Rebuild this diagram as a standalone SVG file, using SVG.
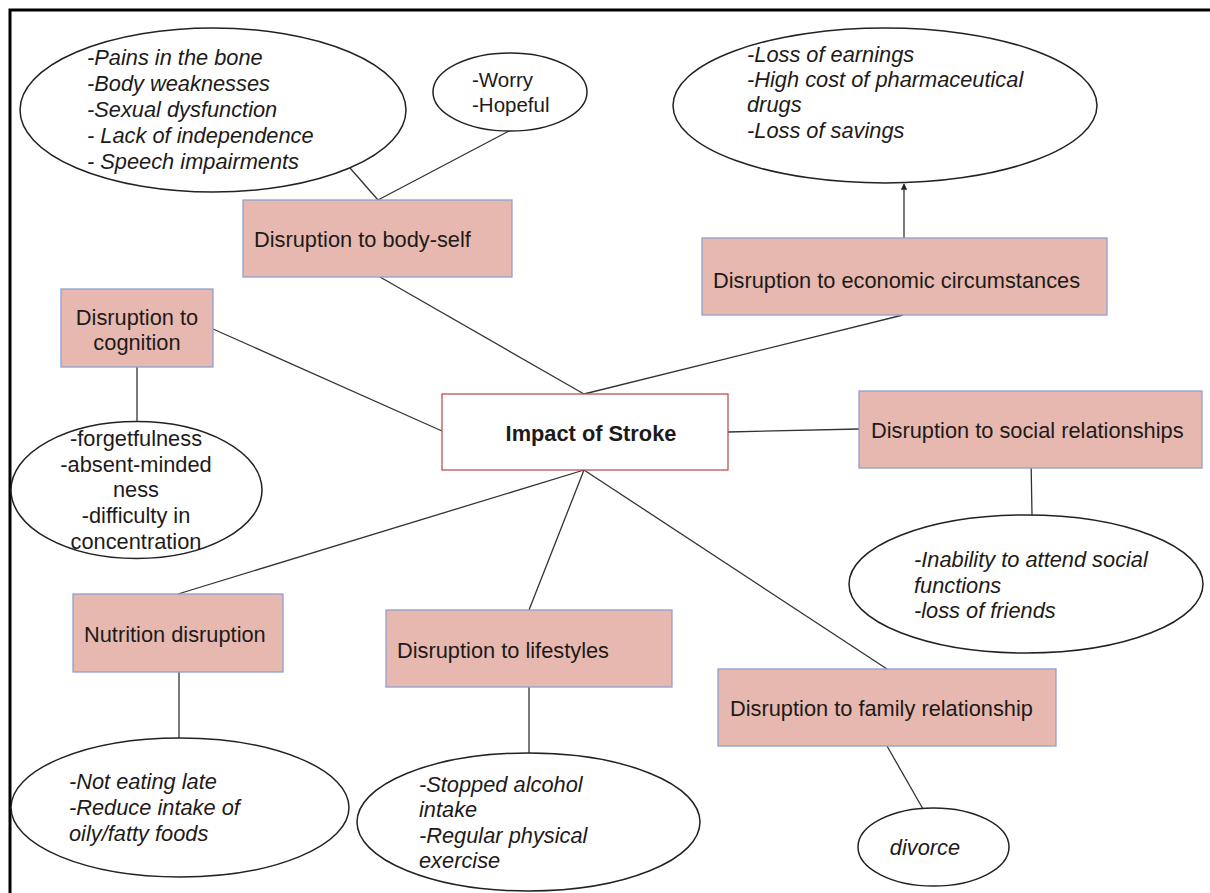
<svg xmlns="http://www.w3.org/2000/svg" width="1210" height="893" viewBox="0 0 1210 893">
  <style>
    .frame { fill: none; stroke: #000; stroke-width: 3; }
    .box { fill: #e6b8af; stroke: #8fa0d0; stroke-width: 1.3; }
    .core { fill: #fff; stroke: #c0504d; stroke-width: 1.3; }
    .oval { fill: #fff; stroke: #222; stroke-width: 1.5; }
    .link { fill: none; stroke: #333; stroke-width: 1.3; }
    text { font-family: "Liberation Sans", Arial, sans-serif; fill: #1e1a1a; font-size: 21.8px; }
    .it { font-style: italic; }
    .mid { text-anchor: middle; }
    .bold { font-weight: bold; }
  </style>
  <defs>
    <marker id="arrowhead" viewBox="0 0 10 10" refX="9" refY="5" markerWidth="5" markerHeight="5" orient="auto">
      <path d="M0,0 L10,5 L0,10 z" fill="#222"/>
    </marker>
  </defs>

  <rect fill="#fff" x="0" y="0" width="1210" height="893"/>
  <rect class="frame" x="10" y="10" width="1210" height="900"/>

  <!-- connectors -->
  <g id="connectors">
    <line class="link" x1="350" y1="168" x2="378" y2="200"/>
    <line class="link" x1="378" y1="200" x2="509" y2="131"/>
    <line class="link" x1="380" y1="277" x2="584" y2="394"/>
    <line class="link" x1="584" y1="394" x2="903" y2="315"/>
    <line class="link" x1="904" y1="238" x2="904" y2="184" marker-end="url(#arrowhead)"/>
    <line class="link" x1="213" y1="329" x2="442" y2="431"/>
    <line class="link" x1="137" y1="367" x2="137" y2="422"/>
    <line class="link" x1="728" y1="432" x2="859" y2="429"/>
    <line class="link" x1="1031" y1="458" x2="1032" y2="515"/>
    <line class="link" x1="584" y1="470" x2="178" y2="594"/>
    <line class="link" x1="179" y1="672" x2="179" y2="738"/>
    <line class="link" x1="584" y1="470" x2="529" y2="610"/>
    <line class="link" x1="529" y1="687" x2="529" y2="753"/>
    <line class="link" x1="584" y1="470" x2="887" y2="669"/>
    <line class="link" x1="887" y1="746" x2="927" y2="816"/>
  </g>

  <g id="body-symptoms">
    <ellipse class="oval" cx="213" cy="110" rx="193" ry="82"/>
    <text class="it" x="87" y="65">-Pains in the bone</text>
    <text class="it" x="87" y="91">-Body weaknesses</text>
    <text class="it" x="87" y="117">-Sexual dysfunction</text>
    <text class="it" x="87" y="143">- Lack of independence</text>
    <text class="it" x="87" y="169">- Speech impairments</text>
  </g>

  <g id="feelings">
    <ellipse class="oval" cx="510" cy="92" rx="77" ry="39"/>
    <text x="472" y="87" style="font-size:20.5px">-Worry</text>
    <text x="472" y="112" style="font-size:20.5px">-Hopeful</text>
  </g>

  <g id="economic-effects">
    <ellipse class="oval" cx="885" cy="105.5" rx="212" ry="77.5"/>
    <text class="it" x="747" y="62">-Loss of earnings</text>
    <text class="it" x="747" y="87">-High cost of pharmaceutical</text>
    <text class="it" x="747" y="112">drugs</text>
    <text class="it" x="747" y="138">-Loss of savings</text>
  </g>

  <g id="body-self">
    <rect class="box" x="243" y="200" width="269" height="77"/>
    <text x="254" y="247">Disruption to body-self</text>
  </g>

  <g id="economic">
    <rect class="box" x="702" y="238" width="405" height="77"/>
    <text x="713" y="288">Disruption to economic circumstances</text>
  </g>

  <g id="cognition">
    <rect class="box" x="61" y="289" width="152" height="78"/>
    <text class="mid" x="137" y="325">Disruption to</text>
    <text class="mid" x="137" y="350">cognition</text>
  </g>

  <g id="cognition-effects">
    <ellipse class="oval" cx="136.5" cy="490" rx="125.5" ry="68.5"/>
    <text class="mid" x="136" y="446">-forgetfulness</text>
    <text class="mid" x="136" y="472">-absent-minded</text>
    <text class="mid" x="136" y="497">ness</text>
    <text class="mid" x="136" y="523">-difficulty in</text>
    <text class="mid" x="136" y="549">concentration</text>
  </g>

  <g id="impact">
    <rect class="core" x="442" y="394" width="286" height="76"/>
    <text class="mid bold" x="591" y="441">Impact of Stroke</text>
  </g>

  <g id="social">
    <rect class="box" x="859" y="391" width="343" height="77"/>
    <text x="871" y="438">Disruption to social relationships</text>
  </g>

  <g id="social-effects">
    <ellipse class="oval" cx="1026" cy="584" rx="177" ry="69"/>
    <text class="it" x="914" y="567">-Inability to attend social</text>
    <text class="it" x="914" y="593">functions</text>
    <text class="it" x="914" y="618">-loss of friends</text>
  </g>

  <g id="nutrition">
    <rect class="box" x="73" y="594" width="210" height="78"/>
    <text x="84" y="642">Nutrition disruption</text>
  </g>

  <g id="nutrition-effects">
    <ellipse class="oval" cx="180" cy="807.5" rx="169" ry="69.5"/>
    <text class="it" x="69" y="789">-Not eating late</text>
    <text class="it" x="69" y="815">-Reduce intake of</text>
    <text class="it" x="69" y="841">oily/fatty foods</text>
  </g>

  <g id="lifestyles">
    <rect class="box" x="386" y="610" width="286" height="77"/>
    <text x="397" y="658">Disruption to lifestyles</text>
  </g>

  <g id="lifestyle-effects">
    <ellipse class="oval" cx="528.5" cy="822" rx="171.5" ry="69"/>
    <text class="it" x="419" y="792">-Stopped alcohol</text>
    <text class="it" x="419" y="817">intake</text>
    <text class="it" x="419" y="843">-Regular physical</text>
    <text class="it" x="419" y="868">exercise</text>
  </g>

  <g id="family">
    <rect class="box" x="718" y="669" width="338" height="77"/>
    <text x="730" y="716">Disruption to family relationship</text>
  </g>

  <g id="family-effects">
    <ellipse class="oval" cx="933.5" cy="847" rx="75.5" ry="39"/>
    <text class="it mid" x="925" y="855">divorce</text>
  </g>
</svg>
